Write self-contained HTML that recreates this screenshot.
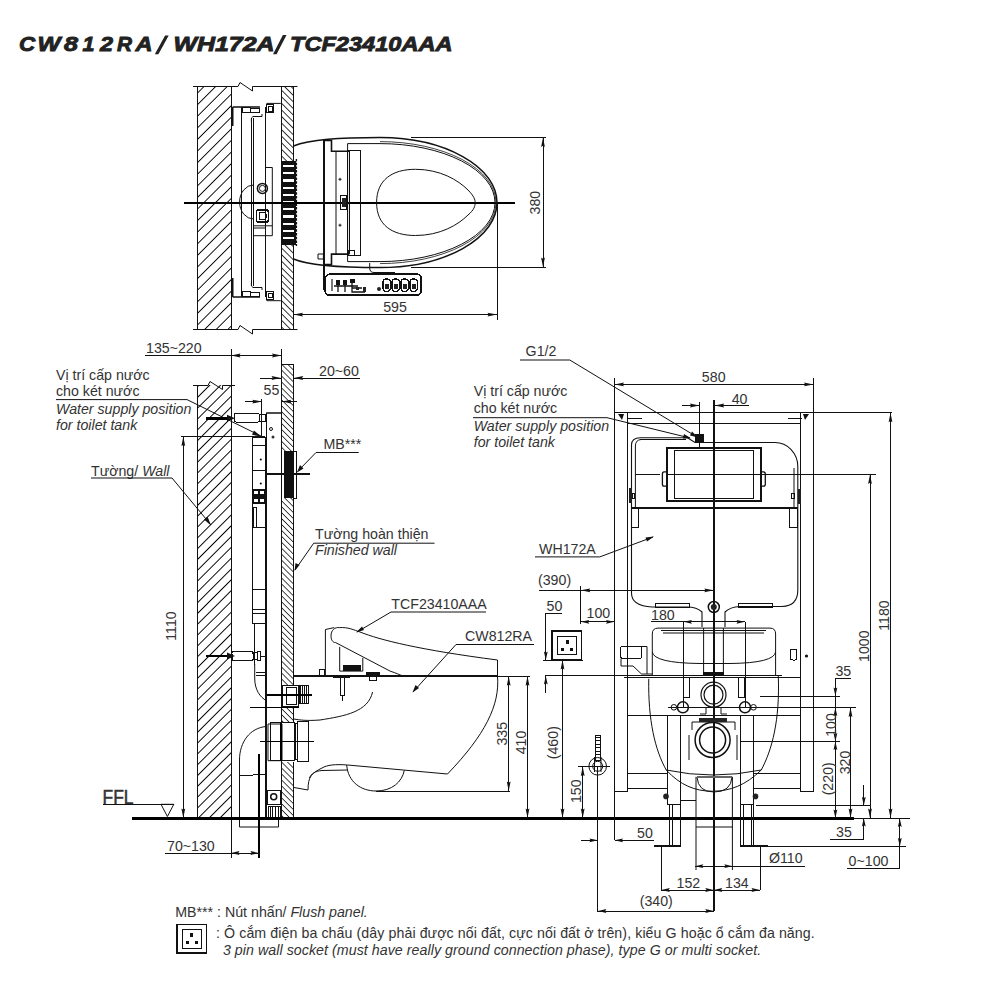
<!DOCTYPE html>
<html><head><meta charset="utf-8"><title>CW812RA/WH172A/TCF23410AAA</title>
<style>
html,body{margin:0;padding:0;background:#fff;width:1000px;height:1000px;overflow:hidden}
svg{display:block}
line,rect{shape-rendering:crispEdges}
.t{stroke:#111;stroke-width:1;fill:none}
.m{stroke:#111;stroke-width:1.5;fill:none}
.k{stroke:#000;stroke-width:2.2;fill:none}
.h{stroke:#222;stroke-width:0.8;fill:none}
.f{fill:#111;stroke:none}
.tx{font-family:"Liberation Sans",sans-serif;fill:#333}
.it{font-family:"Liberation Sans",sans-serif;fill:#333;font-style:italic}
</style></head><body>
<svg width="1000" height="1000" viewBox="0 0 1000 1000">
<defs>
<pattern id="hw" patternUnits="userSpaceOnUse" width="8.2" height="8.2" patternTransform="rotate(45)">
<line x1="0.5" y1="0" x2="0.5" y2="8.2" stroke="#000" stroke-width="1"/>
</pattern>
<pattern id="hw2" patternUnits="userSpaceOnUse" width="7.64" height="7.64" patternTransform="rotate(45)">
<line x1="0.5" y1="0" x2="0.5" y2="7.64" stroke="#000" stroke-width="1"/>
</pattern>
<pattern id="hf" patternUnits="userSpaceOnUse" width="4.65" height="4.65" patternTransform="rotate(-45)">
<line x1="0.45" y1="0" x2="0.45" y2="4.65" stroke="#111" stroke-width="0.9"/>
</pattern>
<pattern id="hf2" patternUnits="userSpaceOnUse" width="4.2" height="4.2" patternTransform="rotate(-45)">
<line x1="0.45" y1="0" x2="0.45" y2="4.2" stroke="#111" stroke-width="0.9"/>
</pattern>
</defs>

<g style="font-family:'Liberation Sans',sans-serif;font-weight:bold;font-style:italic;fill:#222;stroke:#222;stroke-width:0.9" font-size="21">
<text x="19" y="51.3" textLength="16.2" lengthAdjust="spacingAndGlyphs">C</text>
<text x="37.4" y="51.3" textLength="23" lengthAdjust="spacingAndGlyphs">W</text>
<text x="64.1" y="51.3" textLength="14" lengthAdjust="spacingAndGlyphs">8</text>
<text x="82.5" y="51.3" textLength="12" lengthAdjust="spacingAndGlyphs">1</text>
<text x="99.9" y="51.3" textLength="13" lengthAdjust="spacingAndGlyphs">2</text>
<text x="116.9" y="51.3" textLength="15" lengthAdjust="spacingAndGlyphs">R</text>
<text x="135.5" y="51.3" textLength="17" lengthAdjust="spacingAndGlyphs">A</text>
<text x="173.5" y="51.3" textLength="101" lengthAdjust="spacingAndGlyphs">WH172A</text>
<text x="290" y="51.3" textLength="162.5" lengthAdjust="spacingAndGlyphs">TCF23410AAA</text>
</g>
<path d="M154.8,54.3 L158.4,54.3 L168.7,35.4 L165.1,35.4 Z" fill="#222"/>
<path d="M273,54.3 L276.6,54.3 L286.5,35 L282.9,35 Z" fill="#222"/>
<rect x="197.5" y="86.5" width="33.5" height="242.5" fill="url(#hw)"/>
<line x1="197.5" y1="86.5" x2="197.5" y2="329" class="t"/>
<line x1="231" y1="86.5" x2="231" y2="329" class="t"/>
<rect x="281" y="86.5" width="12.5" height="242.5" fill="url(#hf)"/>
<line x1="281" y1="86.5" x2="281" y2="329" class="t"/>
<line x1="293.5" y1="86.5" x2="293.5" y2="329" class="t"/>
<path d="M193,86.5 H238 L240,82.5 L252.5,91 V86.5 H297.5" class="t"/>
<path d="M193,329.5 H238 L240,325.5 L252.5,334 V329.5 H297.5" class="t"/>
<path d="M232.7,107 V126 M232.7,278 V297" stroke="#111" stroke-width="1.6" fill="none"/>
<path d="M232.7,107 H260 M232.7,297 H260" stroke="#111" stroke-width="1.6" fill="none"/>
<line x1="241.5" y1="107" x2="241.5" y2="297" class="t"/>
<path d="M251.4,122 V118 L253,116.5 H262 V114 M251.4,282 V286 L253,287.5 H262 V290" class="t"/>
<line x1="251.4" y1="118" x2="251.4" y2="286" class="t"/>
<line x1="253.6" y1="118" x2="253.6" y2="286" class="t"/>
<line x1="265.7" y1="107" x2="265.7" y2="297" stroke="#111" stroke-width="1.5"/>
<rect x="242" y="107.5" width="8" height="5" class="t"/><rect x="250" y="108.0" width="9" height="4" class="t"/>
<rect x="242" y="291.5" width="8" height="5" class="t"/><rect x="250" y="292.0" width="9" height="4" class="t"/>
<rect x="266.8" y="104.9" width="6.6" height="7.7" class="t"/><rect x="268.5" y="106.5" width="3.5" height="4.5" class="t"/>
<rect x="266.8" y="291.5" width="6.6" height="7.7" class="t"/><rect x="268.5" y="293" width="3.5" height="4.5" class="t"/>
<path d="M266.8,104.9 V103.4 H280.8 M266.8,299.2 V300.7 H280.8" class="t"/>
<path d="M265.7,167.5 H272.3 V235.7 H265.7" class="t"/>
<circle cx="262.4" cy="188.4" r="5" class="m"/><circle cx="262.4" cy="188.4" r="3" class="t"/>
<rect x="256.4" y="210" width="12" height="12" rx="2" class="m"/><rect x="259" y="212.5" width="7" height="7" rx="1.5" class="t"/>
<path d="M253.6,185 A14,17 0 0 0 253.6,219" class="t"/>
<path d="M253.6,225.8 H272.3 M253.6,228 H265.7 M253.6,235.7 H265.7" class="t"/>
<rect x="280.5" y="161" width="15" height="83.5" fill="#111"/>
<rect x="282.5" y="165.0" width="11" height="2.2" fill="#fff"/>
<rect x="282.5" y="172.2" width="11" height="2.2" fill="#fff"/>
<rect x="282.5" y="179.4" width="11" height="2.2" fill="#fff"/>
<rect x="282.5" y="186.6" width="11" height="2.2" fill="#fff"/>
<rect x="282.5" y="193.8" width="11" height="2.2" fill="#fff"/>
<rect x="282.5" y="201.0" width="11" height="2.2" fill="#fff"/>
<rect x="282.5" y="208.2" width="11" height="2.2" fill="#fff"/>
<rect x="282.5" y="215.4" width="11" height="2.2" fill="#fff"/>
<rect x="282.5" y="222.6" width="11" height="2.2" fill="#fff"/>
<rect x="282.5" y="229.8" width="11" height="2.2" fill="#fff"/>
<rect x="282.5" y="237.0" width="11" height="2.2" fill="#fff"/>
<path d="M296.4,159 V246" stroke="#111" stroke-width="1.4" stroke-dasharray="2.5,1.2" fill="none"/>
<line x1="184" y1="202.6" x2="515" y2="202.6" stroke="#000" stroke-width="2"/>
<path d="M293.5,146 C310,139 340,137.6 380,137.6 A117,65 0 0 1 380,267.6 C340,267.6 310,266 293.5,259" stroke="#111" stroke-width="1.5" fill="none"/>
<path d="M347.6,143.6 H380 A115,59 0 0 1 380,261.6 H347.6 Z" class="t"/>
<path d="M380,141.6 A116,61 0 0 1 380,263.6" stroke="#111" stroke-width="0.8" fill="none"/>
<line x1="323.8" y1="140" x2="323.8" y2="290" stroke="#111" stroke-width="1.6"/>
<path d="M323.8,140.5 H331.5 V151.3 H349.3 M323.8,264.5 H331.5 V254.1 H349.3" stroke="#111" stroke-width="1.6" fill="none"/>
<path d="M336,151.3 V254.1" class="t"/>
<rect x="347.6" y="150.4" width="12.8" height="104.6" class="t"/>
<line x1="349.3" y1="151" x2="349.3" y2="254" class="t"/>
<path d="M338.5,179.3 H341.5 M340,177.8 V180.8 M338.5,225.2 H341.5 M340,223.7 V226.7" class="t"/>
<rect x="340.8" y="195.5" width="5.2" height="13.5" class="t"/><rect x="342" y="198" width="3.5" height="9" fill="#222"/>
<rect x="348" y="250" width="6" height="5" class="t"/>
<path d="M318,254 H323.4 V259 H318 Z" class="t"/>
<path d="M376.6,202.6 C376.6,180 392,169.3 415.5,169.3 C440,169.3 458,180 468,190 C474,196 475.2,200 475.2,202.6 C475.2,206 474,210 468,215 C458,225 440,235.5 415.5,235.5 C392,235.5 376.6,225 376.6,202.6 Z" class="t"/>
<path d="M369.7,263 V268 Q369.7,272.5 374,272.5 H395" class="t"/>
<rect x="325.2" y="274.2" width="96" height="21" rx="4.5" stroke="#111" stroke-width="1.7" fill="none"/>
<rect x="331" y="279" width="2.2" height="12" fill="#777"/>
<path d="M336,280 h4 v5 h-4z M343,280 h4 v5 h-4z M350,279 h5 v4 h-5z" fill="#111"/>
<path d="M334,286 H358 M338,285 V292 M345,285 V292 M352,283 V292 H365 M352,288 H362" stroke="#111" stroke-width="1.3" fill="none"/>
<rect x="356" y="287" width="3" height="3" fill="#222"/><rect x="363" y="287" width="3" height="5" fill="#222"/>
<circle cx="379" cy="289" r="2" fill="#222"/>
<rect x="383" y="279" width="7.5" height="12.5" rx="3.5" class="m"/><rect x="384.5" y="283.5" width="4.5" height="5" fill="#222"/>
<rect x="392" y="279" width="7.5" height="12.5" rx="3.5" class="m"/><rect x="393.5" y="283.5" width="4.5" height="5" fill="#222"/>
<rect x="401" y="279" width="7.5" height="12.5" rx="3.5" class="m"/><rect x="402.5" y="283.5" width="4.5" height="5" fill="#222"/>
<rect x="410" y="279" width="7.5" height="12.5" rx="3.5" class="m"/><rect x="411.5" y="283.5" width="4.5" height="5" fill="#222"/>
<line x1="411" y1="137.5" x2="546" y2="137.5" class="t"/>
<line x1="411" y1="267" x2="546" y2="267" class="t"/>
<line x1="543" y1="137.5" x2="543" y2="267" class="t"/>
<path d="M543,137.5 L541.1,147.0 L543,145.8 L544.9,147.0 Z" class="f"/>
<path d="M543,267 L541.1,257.5 L543,258.7 L544.9,257.5 Z" class="f"/>
<text x="540.5" y="202.6" font-size="14.2" text-anchor="middle" class="tx" transform="rotate(-90 540.5 202.6)">380</text>
<line x1="497" y1="204" x2="497" y2="320" class="t"/>
<line x1="293.5" y1="314.6" x2="497" y2="314.6" class="t"/>
<path d="M293.5,314.6 L303.0,312.70000000000005 L301.8,314.6 L303.0,316.5 Z" class="f"/>
<path d="M497,314.6 L487.5,312.70000000000005 L488.7,314.6 L487.5,316.5 Z" class="f"/>
<text x="395" y="312" font-size="14.2" text-anchor="middle" class="tx">595</text>
<rect x="197.5" y="385" width="33.5" height="433" fill="url(#hw2)"/>
<line x1="197.5" y1="385" x2="197.5" y2="818" class="t"/>
<line x1="231" y1="385" x2="231" y2="818" class="t"/>
<path d="M193,385.5 H208 L210,381.5 L222.5,389.5 V385.5 H235" class="t"/>
<rect x="281" y="364" width="12.7" height="454" fill="url(#hf2)"/>
<line x1="281" y1="364" x2="281" y2="818" class="t"/>
<line x1="293.7" y1="364" x2="293.7" y2="818" class="t"/>
<line x1="281" y1="364" x2="293.7" y2="364" class="t"/>
<line x1="231" y1="349" x2="231" y2="385" class="t"/>
<line x1="281.5" y1="349" x2="281.5" y2="364" class="t"/>
<line x1="145" y1="355.5" x2="281.5" y2="355.5" class="t"/>
<path d="M231,355.5 L240.5,353.6 L239.3,355.5 L240.5,357.4 Z" class="f"/>
<path d="M281.5,355.5 L272.0,353.6 L273.2,355.5 L272.0,357.4 Z" class="f"/>
<text x="146" y="352.5" font-size="14.2" text-anchor="start" class="tx">135~220</text>
<line x1="293.7" y1="378" x2="360" y2="378" class="t"/>
<path d="M293.7,378 L303.2,376.1 L302.0,378 L303.2,379.9 Z" class="f"/>
<line x1="260" y1="378" x2="281" y2="378" class="t"/>
<path d="M281,378 L271.5,376.1 L272.7,378 L271.5,379.9 Z" class="f"/>
<text x="319" y="375.5" font-size="14.2" text-anchor="start" class="tx">20~60</text>
<line x1="244.6" y1="401.6" x2="261.8" y2="401.6" class="t"/>
<path d="M261.8,401.6 L252.3,399.70000000000005 L253.5,401.6 L252.3,403.5 Z" class="f"/>
<line x1="261.8" y1="399" x2="261.8" y2="436.4" class="t"/>
<line x1="281.8" y1="401.6" x2="297.4" y2="401.6" class="t"/>
<path d="M281.8,401.6 L291.3,399.70000000000005 L290.1,401.6 L291.3,403.5 Z" class="f"/>
<text x="263.5" y="394.5" font-size="14.2" text-anchor="start" class="tx">55</text>
<text x="56" y="379.5" font-size="14.2" text-anchor="start" class="tx">Vị trí cấp nước</text>
<text x="56" y="396" font-size="14.2" text-anchor="start" class="tx">cho két nước</text>
<text x="56" y="413.5" font-size="14.2" text-anchor="start" class="it">Water supply position</text>
<text x="56" y="430" font-size="14.2" text-anchor="start" class="it">for toilet tank</text>
<path d="M56,399.6 H187 L261,436" class="t"/>
<path d="M261,436.4 L252,434.8 L254,430.5 Z" class="f"/>
<line x1="181" y1="436.6" x2="265" y2="436.6" class="t"/>
<line x1="183.3" y1="436.6" x2="183.3" y2="818" class="t"/>
<path d="M183.3,436.6 L181.4,446.1 L183.3,444.90000000000003 L185.20000000000002,446.1 Z" class="f"/>
<path d="M183.3,818 L181.4,808.5 L183.3,809.7 L185.20000000000002,808.5 Z" class="f"/>
<text x="176" y="626" font-size="14.2" text-anchor="middle" class="tx" transform="rotate(-90 176 626)">1110</text>
<text x="91" y="475.5" font-size="14.2" text-anchor="start" class="tx">Tường/ <tspan font-style="italic">Wall</tspan></text>
<path d="M91,478 H172 L211,525" class="t"/>
<path d="M211,525.5 L204,519.5 L207.5,516.5 Z" class="f"/>
<line x1="205.6" y1="418.2" x2="231" y2="418.2" stroke="#000" stroke-width="2.6"/>
<path d="M235,418.2 L227,414.8 L227,421.6 Z" class="f"/>
<rect x="234" y="413.6" width="25.6" height="8.4" rx="1.5" class="t"/>
<rect x="259.6" y="414.6" width="6" height="6.4" class="t"/>
<path d="M266.2,413 H281" class="m"/>
<line x1="266.5" y1="413" x2="266.5" y2="818" class="t"/>
<circle cx="271" cy="429" r="1.5" class="t"/><circle cx="273" cy="437" r="1.5" fill="#333"/>
<rect x="252.4" y="437.6" width="13.1" height="186" class="t"/>
<line x1="253" y1="445.5" x2="265.5" y2="445.5" class="t"/>
<line x1="253" y1="470" x2="265.5" y2="470" class="t"/>
<rect x="253.5" y="507" width="3" height="20" class="t"/>
<circle cx="260.8" cy="459.5" r="1" fill="#000"/><circle cx="260.8" cy="483.5" r="1" fill="#000"/>
<rect x="251.5" y="488.5" width="15" height="15" fill="#111"/><rect x="254" y="490.5" width="4" height="3" fill="#fff"/><rect x="259.5" y="490.5" width="4" height="3" fill="#fff"/><rect x="254" y="498.5" width="4" height="3" fill="#fff"/><rect x="259.5" y="498.5" width="4" height="3" fill="#fff"/>
<line x1="252.4" y1="527.6" x2="265.5" y2="527.6" class="t"/>
<line x1="252.4" y1="589.2" x2="265.5" y2="589.2" class="t"/>
<line x1="252.4" y1="609.2" x2="265.5" y2="609.2" class="t"/>
<line x1="252.4" y1="613.2" x2="265.5" y2="613.2" class="t"/>
<line x1="254.8" y1="623.6" x2="254.8" y2="665" class="t"/>
<line x1="265.5" y1="623.6" x2="265.5" y2="818" class="t"/>
<line x1="252.4" y1="437.6" x2="252.4" y2="623.6" stroke="#111" stroke-width="1.4"/>
<line x1="265.7" y1="437.6" x2="265.7" y2="623.6" stroke="#111" stroke-width="1.4"/>
<rect x="281.6" y="451.4" width="14.5" height="46.8" fill="#fff"/>
<rect x="284.2" y="451.4" width="10.2" height="46.8" fill="#111"/>
<line x1="296.2" y1="451" x2="296.2" y2="498.5" class="t"/>
<line x1="294.4" y1="451.4" x2="296.2" y2="451.4" class="t"/>
<line x1="294.4" y1="498.2" x2="296.2" y2="498.2" class="t"/>
<line x1="266.8" y1="474.2" x2="310" y2="474.2" class="m"/>
<text x="323.5" y="448.6" font-size="14.2" text-anchor="start" class="tx">MB***</text>
<path d="M358.7,452.5 H316 L297.5,471.5" class="t"/>
<path d="M297,472.5 L300,465 L303.5,468.5 Z" class="f"/>
<text x="315" y="538.7" font-size="14.2" text-anchor="start" class="tx">Tường hoàn thiện</text>
<text x="315" y="555" font-size="14.2" text-anchor="start" class="it">Finished wall</text>
<path d="M434.5,543.2 H313.7 L295,570" class="t"/>
<path d="M294.5,571 L295.5,563 L299.5,565 Z" class="f"/>
<line x1="205.5" y1="656" x2="231" y2="656" stroke="#000" stroke-width="2.6"/>
<path d="M235,656 L227,652.6 L227,659.4 Z" class="f"/>
<rect x="232" y="651.5" width="21" height="9" rx="2" class="t"/>
<rect x="253" y="652.5" width="4" height="7" class="t"/><rect x="257" y="651.5" width="3" height="9" class="t"/>
<line x1="260" y1="656" x2="266.5" y2="656" class="t"/>
<path d="M254.7,664 V678 C254.7,690 260,697 266.5,700.8" class="t"/>
<line x1="255.5" y1="672" x2="266" y2="672" class="t"/>
<line x1="255.5" y1="675" x2="266" y2="675" class="t"/>
<rect x="281.5" y="684.7" width="12.5" height="21" fill="#fff"/>
<rect x="282.3" y="685" width="16" height="21" class="t"/>
<rect x="286" y="687" width="10" height="17" class="t"/>
<line x1="299.0" y1="685.6" x2="299.0" y2="703.7" class="t"/>
<line x1="300.8" y1="685.6" x2="300.8" y2="703.7" class="t"/>
<line x1="302.6" y1="685.6" x2="302.6" y2="703.7" class="t"/>
<line x1="304.4" y1="685.6" x2="304.4" y2="703.7" class="t"/>
<line x1="306.2" y1="685.6" x2="306.2" y2="703.7" class="t"/>
<line x1="308.0" y1="685.6" x2="308.0" y2="703.7" class="t"/>
<rect x="298.4" y="685.6" width="10.5" height="18" class="t"/>
<line x1="267" y1="695" x2="311.7" y2="695" stroke="#000" stroke-width="1.8"/>
<line x1="250" y1="707.5" x2="299.4" y2="707.5" stroke="#000" stroke-width="1.8"/>
<rect x="281.5" y="721.7" width="12.5" height="40" fill="#fff"/>
<path d="M268,724 H282 V760.7 H268 Z" class="t"/><rect x="270" y="722.7" width="24.6" height="38" class="t"/>
<line x1="281" y1="722.7" x2="281" y2="760.7" stroke="#000" stroke-width="1.6"/>
<rect x="295" y="723" width="2.5" height="36" class="t"/>
<rect x="297.5" y="721.4" width="11.4" height="40.3" rx="1" class="t"/>
<line x1="260.4" y1="741.7" x2="313.6" y2="741.7" stroke="#000" stroke-width="1.4"/>
<path d="M266,726.5 C250,728 239.5,742 239.5,760 V827 H278.5 V818" class="t"/>
<line x1="240" y1="776" x2="266" y2="774" class="t"/>
<line x1="258.9" y1="754" x2="258.9" y2="857.5" stroke="#000" stroke-width="1.8"/>
<rect x="267" y="790" width="13" height="14" class="t"/><circle cx="273.7" cy="796.8" r="3" class="m"/>
<rect x="268" y="806" width="12" height="12" class="t"/>
<line x1="270.0" y1="806" x2="270.0" y2="818" class="t"/>
<line x1="272.8" y1="806" x2="272.8" y2="818" class="t"/>
<line x1="275.6" y1="806" x2="275.6" y2="818" class="t"/>
<line x1="278.4" y1="806" x2="278.4" y2="818" class="t"/>
<line x1="231" y1="818" x2="231" y2="857.5" class="t"/>
<line x1="165" y1="853" x2="259.5" y2="853" class="t"/>
<path d="M231,853 L239.5,851.1 L238.3,853 L239.5,854.9 Z" class="f"/>
<path d="M258.9,853 L250.39999999999998,851.1 L251.59999999999997,853 L250.39999999999998,854.9 Z" class="f"/>
<text x="167" y="851" font-size="14.2" text-anchor="start" class="tx">70~130</text>
<text x="102.5" y="803.5" font-size="19.5" text-anchor="start" class="tx" textLength="31" lengthAdjust="spacingAndGlyphs" style="stroke:#333;stroke-width:0.5">FFL</text>
<line x1="103" y1="804.3" x2="173.8" y2="804.3" class="t"/>
<path d="M161,804.3 L173.8,804.3 L167.4,816.5 Z" class="t"/>
<line x1="132" y1="818.5" x2="854" y2="818.5" stroke="#000" stroke-width="3.6"/>
<line x1="293.7" y1="676.3" x2="497.5" y2="676.3" stroke="#111" stroke-width="1.8"/>
<line x1="497.5" y1="676.3" x2="530" y2="676.3" class="t"/>
<path d="M497.5,676.3 C500,705 485,735 447.5,774 L347.6,765 C335,764 327,765 322,768 C312,773 308,776 308,790 L294,787.5" class="t"/>
<path d="M347.6,770 L322,770.5 C315,771 311,774 309.5,778" class="t"/>
<path d="M346.7,765 C348,782 361,791 376,791 C392,791 402,782 404.3,770.4" class="t"/>
<line x1="376" y1="791.1" x2="510" y2="791.1" class="t"/>
<path d="M372.6,692 C368,712 345,716 320,720 C306,721 300,720 293.7,719" class="t"/>
<path d="M325.4,676 V629.5 L334.2,627.6" class="t"/>
<path d="M339.4,627.6 C335,627 331,630 331,636 C331,641 334,643 335.5,642.5 L390.1,671.1 C396,673 400,675 403.1,676" class="t"/>
<path d="M339.4,627.6 C348,627 354,630 360,632 C380,640 420,650 497.5,660 V676.3" class="t"/>
<path d="M339.7,646.9 V671.1 H362.8 V658" class="t"/>
<rect x="343" y="664.6" width="18" height="6.5" fill="#111"/>
<rect x="365.7" y="672.2" width="14" height="4.3" fill="#111"/><rect x="369" y="676.3" width="7" height="4" class="t"/>
<rect x="340" y="676.3" width="4.6" height="19" class="t"/><line x1="342.3" y1="695" x2="342.3" y2="701" class="t"/>
<rect x="319.3" y="669.2" width="5.2" height="6.8" class="t"/>
<path d="M333,676.3 H350 V678 H333 Z" fill="#111"/>
<text x="391.3" y="608.7" font-size="14.2" text-anchor="start" class="tx">TCF23410AAA</text>
<path d="M486,612 H391 L357,632" class="t"/>
<path d="M356,632.5 L362,626.5 L364,630 Z" class="f"/>
<text x="465" y="641.2" font-size="14.2" text-anchor="start" class="tx">CW812RA</text>
<path d="M534,644.5 H456 L413,692" class="t"/>
<path d="M412.5,692.5 L415.5,685 L419,688 Z" class="f"/>
<line x1="508.7" y1="676.3" x2="508.7" y2="791.1" class="t"/>
<path d="M508.7,676.3 L506.8,685.8 L508.7,684.5999999999999 L510.59999999999997,685.8 Z" class="f"/>
<path d="M508.7,791.1 L506.8,781.6 L508.7,782.8000000000001 L510.59999999999997,781.6 Z" class="f"/>
<text x="507" y="733.7" font-size="14.2" text-anchor="middle" class="tx" transform="rotate(-90 507 733.7)">335</text>
<line x1="527.5" y1="676.3" x2="527.5" y2="818" class="t"/>
<path d="M527.5,676.3 L525.6,685.8 L527.5,684.5999999999999 L529.4,685.8 Z" class="f"/>
<path d="M527.5,818 L525.6,808.5 L527.5,809.7 L529.4,808.5 Z" class="f"/>
<text x="525.5" y="742.5" font-size="14.2" text-anchor="middle" class="tx" transform="rotate(-90 525.5 742.5)">410</text>
<text x="525.6" y="355.5" font-size="14.2" text-anchor="start" class="tx">G1/2</text>
<path d="M520,360 H569.8 L697,437" class="t"/>
<path d="M698,437.5 L690,435.5 L692,431.5 Z" class="f"/>
<text x="473.7" y="395.5" font-size="14.2" text-anchor="start" class="tx">Vị trí cấp nước</text>
<text x="473.7" y="412.6" font-size="14.2" text-anchor="start" class="tx">cho két nước</text>
<text x="473.7" y="430.6" font-size="14.2" text-anchor="start" class="it">Water supply position</text>
<text x="473.7" y="446.5" font-size="14.2" text-anchor="start" class="it">for toilet tank</text>
<path d="M473,417.7 H607 L690,438" class="t"/>
<path d="M691,438.3 L683,438.5 L684,434 Z" class="f"/>
<line x1="614.5" y1="378" x2="614.5" y2="840" class="t"/>
<line x1="813.5" y1="378" x2="813.5" y2="420" class="t"/>
<line x1="614.5" y1="384.4" x2="813.5" y2="384.4" class="t"/>
<path d="M614.5,384.4 L624.0,382.5 L622.8,384.4 L624.0,386.29999999999995 Z" class="f"/>
<path d="M813.5,384.4 L804.0,382.5 L805.2,384.4 L804.0,386.29999999999995 Z" class="f"/>
<text x="713.7" y="382" font-size="14.2" text-anchor="middle" class="tx">580</text>
<line x1="682" y1="405.5" x2="699.4" y2="405.5" class="t"/>
<path d="M699.4,405.5 L689.9,403.6 L691.1,405.5 L689.9,407.4 Z" class="f"/>
<line x1="714.7" y1="405.5" x2="748.7" y2="405.5" class="t"/>
<path d="M714.7,405.5 L724.2,403.6 L723.0,405.5 L724.2,407.4 Z" class="f"/>
<text x="731.7" y="403.5" font-size="14.2" text-anchor="start" class="tx">40</text>
<line x1="699.4" y1="402" x2="699.4" y2="447" class="t"/>
<line x1="713.8" y1="399.7" x2="713.8" y2="911" stroke="#111" stroke-width="1.4"/>
<line x1="614.5" y1="412.8" x2="891.5" y2="412.8" stroke="#111" stroke-width="1.2"/>
<line x1="627.6" y1="423" x2="800" y2="423" class="t"/>
<path d="M618,414 L624,414 L622,420 Z" class="f"/><path d="M809,414 L803,414 L805,420 Z" class="f"/>
<line x1="628" y1="418" x2="642" y2="418" class="t"/>
<line x1="788" y1="418" x2="802" y2="418" class="t"/>
<line x1="627.6" y1="412.8" x2="627.6" y2="791.2" class="t"/>
<line x1="800" y1="412.8" x2="800" y2="791.2" class="t"/>
<line x1="813.5" y1="412.8" x2="813.5" y2="791.2" class="t"/>
<line x1="614.5" y1="791.2" x2="627.6" y2="791.2" class="t"/>
<line x1="800" y1="791.2" x2="813.5" y2="791.2" class="t"/>
<line x1="627.6" y1="677.5" x2="800" y2="677.5" class="t"/>
<line x1="627.6" y1="715" x2="800" y2="715" class="t"/>
<line x1="627.6" y1="773.7" x2="668" y2="773.7" class="t"/>
<line x1="627.6" y1="788.7" x2="668" y2="788.7" class="t"/>
<line x1="753.7" y1="773.7" x2="800" y2="773.7" class="t"/>
<line x1="753.7" y1="788.7" x2="800" y2="788.7" class="t"/>
<path d="M631.5,593 V445 Q631.5,437.7 640.3,437.7 H687.4 L695,442.5 H775 A22.8,24 0 0 1 797.8,466.5 V590 Q797.8,606 782,606.5 H740 Q730,607 725,612 L725,627 M702,627 L702,612 Q697,607 687,607 H652 Q631.5,606 631.5,593" stroke="#111" stroke-width="1.1" fill="none"/>
<path d="M640.3,439.5 H686" class="t"/>
<path d="M635.4,508 V446 Q635.4,440 641,439.5 M794,508 V468" class="t"/>
<rect x="631.5" y="508" width="7.2" height="19" class="t"/><rect x="789.7" y="508" width="8.1" height="19" class="t"/>
<rect x="628.8" y="488.4" width="2.8" height="14.8" fill="#222"/><rect x="797.8" y="488.7" width="2.7" height="15" fill="#222"/>
<rect x="632" y="493" width="2.5" height="5" class="t"/><rect x="791.5" y="493" width="2.5" height="5" class="t"/>
<line x1="631.5" y1="508.2" x2="797.8" y2="508.2" stroke="#111" stroke-width="2.2"/>
<rect x="666.7" y="448.3" width="94.3" height="52.9" stroke="#111" stroke-width="2" fill="none"/>
<rect x="674.7" y="450.6" width="78.3" height="48.3" class="t"/>
<path d="M666.7,471.8 H664 Q662.4,471.8 662.4,474 V484 Q662.4,486.2 664,486.2 H666.7 M761,471.8 H763.5 Q765.3,471.8 765.3,474 V484 Q765.3,486.2 763.5,486.2 H761" stroke="#111" stroke-width="1.3" fill="none"/>
<line x1="635.4" y1="474.5" x2="660" y2="474.5" class="t"/>
<line x1="666.7" y1="474.5" x2="876" y2="474.5" class="t"/>
<rect x="655" y="603.5" width="34.7" height="3.5" class="t"/><rect x="738" y="603.5" width="34.7" height="3.5" class="t"/>
<circle cx="713.8" cy="607" r="5.5" class="m"/><circle cx="713.8" cy="607" r="3" fill="#222"/>
<rect x="695" y="434" width="9" height="8" fill="#111"/>
<path d="M652.3,676 V634 Q652.3,628.1 658,628.1 H770 Q775.6,628.1 775.6,634 V676" class="t"/>
<path d="M652.3,652 Q654,663 700,663.5 H730 Q774,663 775.6,652" class="t"/>
<path d="M661,630.5 H766 M663,633 H764" stroke="#111" stroke-width="1.1" fill="none"/>
<path d="M703.6,628 V672 M723.4,628 V672" class="t"/>
<rect x="703" y="672" width="21" height="4" fill="#111"/>
<path d="M648.75,678.75 C648,720 655,750 666.25,770 C680,785 695,791.25 712.5,791.25 C730,791.25 746,785 761.25,770 C772,750 780,720 778.3,676" class="t"/>
<path d="M666.25,770 Q712.5,780 761.25,770" class="t"/>
<path d="M697,777 Q698,792 714,792 Q731,792 732,777" class="t"/><line x1="697" y1="777" x2="732" y2="777" stroke="#666" stroke-width="1.6"/>
<rect x="620.8" y="646.1" width="20.7" height="12.6" rx="2" class="t"/><path d="M621,658.7 V666 H633 L641.5,674 H652.3 M641.5,646.5 H647 V674" class="t"/>
<circle cx="713.5" cy="694.7" r="12.5" stroke="#111" stroke-width="1.2" fill="none"/><circle cx="713.5" cy="694.7" r="9.5" stroke="#111" stroke-width="1.2" fill="none"/>
<path d="M706,707 V714 H700 M721,707 V714 H727" class="t"/>
<circle cx="712.5999999999999" cy="740" r="17.5" class="m"/><circle cx="712.5999999999999" cy="740" r="13" class="m"/>
<path d="M692,730 V722 H735 V730 M689,760 V735 M737,760 V735" class="t"/>
<rect x="699" y="718" width="28" height="4" fill="#222"/>
<line x1="668" y1="707.3" x2="760" y2="707.3" stroke="#111" stroke-width="1.2"/>
<circle cx="682.9" cy="707.3" r="5.5" class="m"/><circle cx="745" cy="707.3" r="5.5" class="m"/>
<circle cx="673.9" cy="707.3" r="2.8" class="t"/><circle cx="753.5" cy="707.3" r="2.8" class="t"/>
<rect x="683" y="677" width="6" height="20" class="t"/><rect x="738" y="677" width="6" height="20" class="t"/>
<line x1="683.4" y1="621.8" x2="683.4" y2="707.5" class="t"/>
<line x1="745" y1="621.8" x2="745" y2="707.5" class="t"/>
<line x1="624" y1="677.5" x2="655" y2="677.5" class="m"/>
<line x1="769" y1="677.5" x2="800" y2="677.5" class="m"/>
<rect x="667.3" y="715" width="13.3" height="89.8" class="t"/><rect x="740" y="715" width="13.4" height="89.8" class="t"/>
<line x1="669.5" y1="804.8" x2="669.5" y2="845.7" class="t"/>
<line x1="672" y1="804.8" x2="672" y2="845.7" class="t"/>
<line x1="680.6" y1="804.8" x2="680.6" y2="845.7" class="t"/>
<line x1="740.5" y1="804.8" x2="740.5" y2="845.7" class="t"/>
<line x1="743" y1="804.8" x2="743" y2="845.7" class="t"/>
<line x1="751.5" y1="804.8" x2="751.5" y2="845.7" class="t"/>
<line x1="753.4" y1="804.8" x2="753.4" y2="845.7" class="t"/>
<line x1="654" y1="845.7" x2="681.3" y2="845.7" stroke="#111" stroke-width="1.8"/>
<line x1="740" y1="845.7" x2="768" y2="845.7" stroke="#111" stroke-width="1.8"/>
<circle cx="666" cy="796.4" r="2.8" fill="#222"/><circle cx="755.5" cy="796.4" r="2.8" fill="#222"/>
<line x1="681.3" y1="800.6" x2="696" y2="800.6" stroke="#111" stroke-width="1.6"/>
<circle cx="806.5" cy="656" r="1.6" fill="#111"/><rect x="790.5" y="649" width="6" height="11" rx="2" class="t"/>
<path d="M696,776.8 V870 M732.4,776.8 V870" class="t"/><path d="M696,827 H732.4" class="t"/>
<text x="539" y="554.2" font-size="14.2" text-anchor="start" class="tx">WH172A</text>
<path d="M535,556.9 H599.8 L653,537" class="t"/>
<path d="M654,536.5 L647,541.5 L645.5,537.5 Z" class="f"/>
<text x="538" y="584.6" font-size="14.2" text-anchor="start" class="tx">(390)</text>
<line x1="539" y1="590.3" x2="713.8" y2="590.3" class="t"/>
<path d="M713.8,590.3 L704.3,588.4 L705.5,590.3 L704.3,592.1999999999999 Z" class="f"/>
<path d="M580.8,590.3 L590.3,588.4 L589.0999999999999,590.3 L590.3,592.1999999999999 Z" class="f"/>
<line x1="580.8" y1="586" x2="580.8" y2="624" class="t"/>
<line x1="580.8" y1="621.8" x2="614.5" y2="621.8" class="t"/>
<path d="M580.8,621.8 L589.3,619.9 L588.0999999999999,621.8 L589.3,623.6999999999999 Z" class="f"/>
<path d="M614.5,621.8 L606.0,619.9 L607.2,621.8 L606.0,623.6999999999999 Z" class="f"/>
<text x="586.5" y="618" font-size="14.2" text-anchor="start" class="tx">100</text>
<text x="546.6" y="611.2" font-size="14.2" text-anchor="start" class="tx">50</text>
<line x1="545.8" y1="613" x2="562" y2="613" class="t"/>
<line x1="545.8" y1="613" x2="545.8" y2="660" class="t"/>
<path d="M545.8,660 L543.9,651.5 L545.8,652.7 L547.6999999999999,651.5 Z" class="f"/>
<line x1="544.7" y1="675.8" x2="782" y2="675.8" class="t"/>
<line x1="545.8" y1="676" x2="545.8" y2="693" class="t"/>
<path d="M545.8,676 L543.9,684.5 L545.8,683.3 L547.6999999999999,684.5 Z" class="f"/>
<rect x="552.3" y="631" width="29.2" height="28.8" stroke="#111" stroke-width="1.8" fill="none"/>
<rect x="557.5" y="636" width="19" height="18.5" class="t"/>
<rect x="565.5" y="640" width="3" height="4" fill="#111"/><rect x="561" y="648" width="3" height="3" fill="#111"/><rect x="570" y="648" width="3" height="3" fill="#111"/>
<text x="651" y="619.5" font-size="14.2" text-anchor="start" class="tx">180</text>
<line x1="651" y1="621.8" x2="683.4" y2="621.8" class="t"/>
<line x1="683.4" y1="621.8" x2="745" y2="621.8" class="t"/>
<path d="M683.4,621.8 L691.9,619.9 L690.6999999999999,621.8 L691.9,623.6999999999999 Z" class="f"/>
<path d="M745,621.8 L736.5,619.9 L737.7,621.8 L736.5,623.6999999999999 Z" class="f"/>
<line x1="527.6" y1="676" x2="527.6" y2="818" class="t"/>
<line x1="562.5" y1="660" x2="562.5" y2="818" class="t"/>
<path d="M562.5,660 L560.6,669.5 L562.5,668.3 L564.4,669.5 Z" class="f"/>
<path d="M562.5,818 L560.6,808.5 L562.5,809.7 L564.4,808.5 Z" class="f"/>
<text x="558" y="742.7" font-size="14.2" text-anchor="middle" class="tx" transform="rotate(-90 558 742.7)">(460)</text>
<line x1="543" y1="660" x2="583" y2="660" class="t"/>
<line x1="582.7" y1="766.6" x2="582.7" y2="818" class="t"/>
<path d="M582.7,766.6 L580.8000000000001,776.1 L582.7,774.9 L584.6,776.1 Z" class="f"/>
<path d="M582.7,818 L580.8000000000001,808.5 L582.7,809.7 L584.6,808.5 Z" class="f"/>
<text x="581.5" y="791.2" font-size="14.2" text-anchor="middle" class="tx" transform="rotate(-90 581.5 791.2)">150</text>
<line x1="578" y1="766.6" x2="610" y2="766.6" class="t"/>
<circle cx="597.7" cy="766.3" r="8.8" class="t"/><circle cx="597.7" cy="766.3" r="5" class="t"/><path d="M594.5,757 V772 M601,757 V772" class="t"/>
<rect x="595.5" y="735" width="5" height="25" class="t"/>
<line x1="595.5" y1="737.0" x2="600.5" y2="737.0" class="t"/>
<line x1="595.5" y1="740.5" x2="600.5" y2="740.5" class="t"/>
<line x1="595.5" y1="744.0" x2="600.5" y2="744.0" class="t"/>
<line x1="595.5" y1="747.5" x2="600.5" y2="747.5" class="t"/>
<line x1="595.5" y1="751.0" x2="600.5" y2="751.0" class="t"/>
<line x1="595.5" y1="754.5" x2="600.5" y2="754.5" class="t"/>
<line x1="597.9" y1="765.5" x2="597.9" y2="911.8" class="t"/>
<line x1="614.5" y1="840.3" x2="653.7" y2="840.3" class="t"/>
<path d="M614.5,840.3 L623.0,838.4 L621.8,840.3 L623.0,842.1999999999999 Z" class="f"/>
<text x="637" y="837.7" font-size="14.2" text-anchor="start" class="tx">50</text>
<line x1="580.8" y1="840.3" x2="597.9" y2="840.3" class="t"/>
<path d="M597.9,840.3 L589.4,838.4 L590.6,840.3 L589.4,842.1999999999999 Z" class="f"/>
<line x1="694.8" y1="866.2" x2="732.8" y2="866.2" class="t"/>
<path d="M694.8,866.2 L703.3,864.3000000000001 L702.0999999999999,866.2 L703.3,868.1 Z" class="f"/>
<path d="M732.8,866.2 L724.3,864.3000000000001 L725.5,866.2 L724.3,868.1 Z" class="f"/>
<line x1="732.8" y1="866.2" x2="805" y2="866.2" class="t"/>
<text x="768.9" y="863.1" font-size="14.2" text-anchor="start" class="tx">Ø110</text>
<line x1="661.3" y1="846" x2="661.3" y2="890" class="t"/>
<line x1="760" y1="846" x2="760" y2="890" class="t"/>
<line x1="661.3" y1="890" x2="760" y2="890" class="t"/>
<path d="M661.3,890 L669.8,888.1 L668.5999999999999,890 L669.8,891.9 Z" class="f"/>
<path d="M713.8,890 L705.3,888.1 L706.5,890 L705.3,891.9 Z" class="f"/>
<path d="M713.8,890 L722.3,888.1 L721.0999999999999,890 L722.3,891.9 Z" class="f"/>
<path d="M760,890 L751.5,888.1 L752.7,890 L751.5,891.9 Z" class="f"/>
<text x="676.5" y="888" font-size="14.2" text-anchor="start" class="tx">152</text>
<text x="725" y="888" font-size="14.2" text-anchor="start" class="tx">134</text>
<line x1="597.9" y1="911" x2="713.8" y2="911" class="t"/>
<path d="M597.9,911 L606.4,909.1 L605.1999999999999,911 L606.4,912.9 Z" class="f"/>
<path d="M713.8,911 L705.3,909.1 L706.5,911 L705.3,912.9 Z" class="f"/>
<text x="639.7" y="906" font-size="14.2" text-anchor="start" class="tx">(340)</text>
<line x1="890.5" y1="412.8" x2="890.5" y2="818" class="t"/>
<path d="M890.5,412.8 L888.6,422.3 L890.5,421.1 L892.4,422.3 Z" class="f"/>
<path d="M890.5,818 L888.6,808.5 L890.5,809.7 L892.4,808.5 Z" class="f"/>
<text x="889" y="615.5" font-size="14.2" text-anchor="middle" class="tx" transform="rotate(-90 889 615.5)">1180</text>
<line x1="870" y1="474.5" x2="870" y2="818" class="t"/>
<path d="M870,474.5 L868.1,484.0 L870,482.8 L871.9,484.0 Z" class="f"/>
<path d="M870,818 L868.1,808.5 L870,809.7 L871.9,808.5 Z" class="f"/>
<text x="869" y="646.2" font-size="14.2" text-anchor="middle" class="tx" transform="rotate(-90 869 646.2)">1000</text>
<line x1="668" y1="707.4" x2="856" y2="707.4" class="t"/>
<line x1="850.5" y1="707.4" x2="850.5" y2="818" class="t"/>
<path d="M850.5,707.4 L848.6,716.9 L850.5,715.6999999999999 L852.4,716.9 Z" class="f"/>
<path d="M850.5,818 L848.6,808.5 L850.5,809.7 L852.4,808.5 Z" class="f"/>
<text x="849.5" y="762.5" font-size="14.2" text-anchor="middle" class="tx" transform="rotate(-90 849.5 762.5)">320</text>
<line x1="740" y1="741.5" x2="840" y2="741.5" class="t"/>
<line x1="760" y1="696" x2="840" y2="696" class="t"/>
<line x1="835.4" y1="678.8" x2="835.4" y2="818" class="t"/>
<path d="M835.4,696 L833.5,687.5 L835.4,688.7 L837.3,687.5 Z" class="f"/>
<path d="M835.4,707.4 L833.5,715.9 L835.4,714.6999999999999 L837.3,715.9 Z" class="f"/>
<path d="M835.4,741.5 L833.5,733.0 L835.4,734.2 L837.3,733.0 Z" class="f"/>
<path d="M835.4,741.5 L833.5,750.0 L835.4,748.8 L837.3,750.0 Z" class="f"/>
<path d="M835.4,818 L833.5,809.5 L835.4,810.7 L837.3,809.5 Z" class="f"/>
<text x="836" y="725" font-size="14.2" text-anchor="middle" class="tx" transform="rotate(-90 836 725)">100</text>
<text x="833" y="778.8" font-size="14.2" text-anchor="middle" class="tx" transform="rotate(-90 833 778.8)">(220)</text>
<text x="835.4" y="675.8" font-size="14.2" text-anchor="start" class="tx">35</text>
<line x1="835.4" y1="678.8" x2="851" y2="678.8" class="t"/>
<line x1="755.6" y1="805.4" x2="870" y2="805.4" class="t"/>
<line x1="863.8" y1="784.5" x2="863.8" y2="805.4" class="t"/>
<path d="M863.8,805.4 L861.9,796.9 L863.8,798.1 L865.6999999999999,796.9 Z" class="f"/>
<line x1="863.8" y1="818" x2="863.8" y2="839.6" class="t"/>
<path d="M863.8,818 L861.9,826.5 L863.8,825.3 L865.6999999999999,826.5 Z" class="f"/>
<text x="836" y="836.5" font-size="14.2" text-anchor="start" class="tx">35</text>
<line x1="830" y1="839.6" x2="863.8" y2="839.6" class="t"/>
<line x1="759" y1="846.4" x2="905.5" y2="846.4" class="t"/>
<line x1="899.8" y1="818" x2="899.8" y2="868" class="t"/>
<path d="M899.8,818.5 L897.9,827.0 L899.8,825.8 L901.6999999999999,827.0 Z" class="f"/>
<path d="M899.8,846.4 L897.9,837.9 L899.8,839.1 L901.6999999999999,837.9 Z" class="f"/>
<line x1="854" y1="818.5" x2="910" y2="818.5" class="t"/>
<text x="848.6" y="866.2" font-size="14.2" text-anchor="start" class="tx">0~100</text>
<line x1="846.7" y1="868" x2="900" y2="868" class="t"/>
<text x="175.3" y="917.1" font-size="14.2" text-anchor="start" class="tx">MB*** : Nút nhấn/ <tspan font-style="italic">Flush panel.</tspan></text>
<rect x="177" y="924.5" width="29.5" height="28.5" stroke="#111" stroke-width="1.8" fill="none"/>
<rect x="182" y="929.5" width="19.5" height="18.5" class="t"/>
<rect x="190" y="933" width="3" height="4" fill="#111"/><rect x="186" y="941" width="3" height="3" fill="#111"/><rect x="195" y="941" width="3" height="3" fill="#111"/>
<text x="216" y="937.5" font-size="14.2" text-anchor="start" class="tx" textLength="598.7">: Ô cắm điện ba chấu (dây phải được nối đất, cực nối đất ở trên), kiểu G hoặc ổ cắm đa năng.</text>
<text x="222.9" y="954.5" font-size="14.2" text-anchor="start" class="it" textLength="538.2">3 pin wall socket (must have really ground connection phase), type G or multi socket.</text>
</svg></body></html>
